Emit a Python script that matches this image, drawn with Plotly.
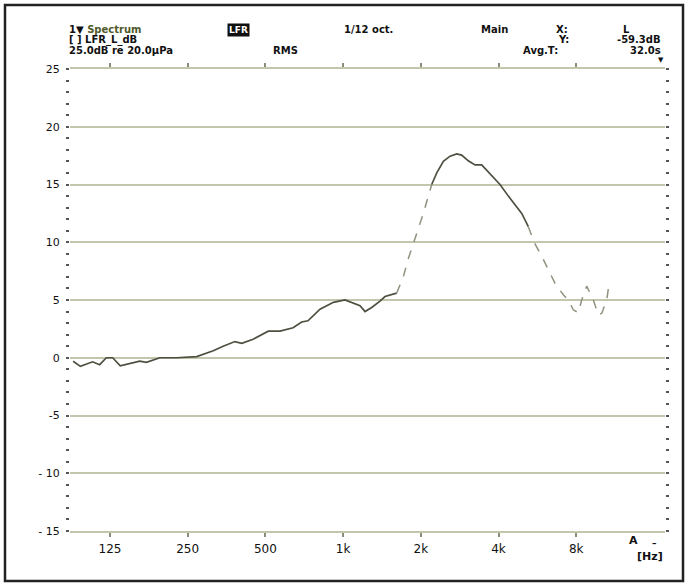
import plotly.graph_objects as go

# ---- data (1/12-octave spectrum) ----
freq_hz = [90, 96, 107, 114, 121, 128, 137, 163, 173, 195, 227, 271, 314, 343, 381,
           405, 448, 513, 570, 640, 691, 731, 814, 917, 1017, 1092, 1163, 1216, 1290,
           1390, 1453, 1613]
level_db = [-0.3, -0.75, -0.35, -0.6, 0.0, 0.0, -0.7, -0.3, -0.4, 0.0, 0.0, 0.1, 0.6,
            1.0, 1.4, 1.25, 1.6, 2.3, 2.3, 2.6, 3.1, 3.2, 4.2, 4.8, 5.0, 4.7, 4.5,
            4.0, 4.35, 4.9, 5.3, 5.6]

rise_hz = [1613, 1711, 1784, 1882, 2046, 2204]
rise_db = [5.6, 7.0, 8.5, 10.0, 12.5, 15.0]

peak_hz = [2204, 2306, 2446, 2596, 2755, 2880, 3054, 3244, 3443, 3652, 3876, 4053,
           4432, 4920, 5218]
peak_db = [15.0, 16.0, 17.0, 17.45, 17.65, 17.55, 17.05, 16.7, 16.7, 16.1, 15.5, 15.0,
           13.8, 12.5, 11.35]

tail_hz = [5218, 5490, 5880, 6236, 6620, 7130, 7455, 7795, 8150, 8400, 8785, 9320,
           9745, 10050, 10500, 10660]
tail_db = [11.35, 10.0, 8.8, 7.6, 6.45, 5.45, 5.0, 4.15, 3.9, 5.0, 6.2, 5.0, 3.7, 3.85,
           5.0, 6.0]

x_tick_vals = [125, 250, 500, 1000, 2000, 4000, 8000]
x_tick_text = ["125", "250", "500", "1k", "2k", "4k", "8k"]
y_tick_vals = [25, 20, 15, 10, 5, 0, -5, -10, -15]
y_tick_text = ["25", "20", "15", "10", "5", "0", "-5", "- 10", "- 15"]

# ---- layout geometry (pixels) ----
W, H = 686, 585
L, R, T, B = 70, 665, 69, 531
X_RANGE = [1.942, 4.247]

def px(x):
    return (x - L) / (R - L)

def py(y):
    return (B - y) / (B - T)

LINE = "#4d5040"
FAINT = "#8f927f"
GRID = "#c3c6ad"
FONT = "DejaVu Sans"

fig = go.Figure()
fig.add_trace(go.Scatter(x=freq_hz, y=level_db, mode="lines",
                         line=dict(color=LINE, width=1.7), hoverinfo="skip"))
fig.add_trace(go.Scatter(x=rise_hz, y=rise_db, mode="lines",
                         line=dict(color=FAINT, width=1.5, dash="dash"), hoverinfo="skip"))
fig.add_trace(go.Scatter(x=peak_hz, y=peak_db, mode="lines",
                         line=dict(color=LINE, width=1.7), hoverinfo="skip"))
fig.add_trace(go.Scatter(x=tail_hz, y=tail_db, mode="lines",
                         line=dict(color=FAINT, width=1.5, dash="dash"), hoverinfo="skip"))

ann = []
def text(x, y, s, anchor="left", size=10, color="#111"):
    ann.append(dict(xref="paper", yref="paper", x=px(x), y=py(y), text=s,
                    showarrow=False, xanchor=anchor, yanchor="middle", borderpad=0,
                    font=dict(family=FONT, size=size, color=color)))

text(68, 30, "<b>1▼ <span style='color:#4f5a2a'>Spectrum</span></b>")
text(68, 40, "<b>[ ] LFR_L_dB</b>")
text(68, 50, "<b>25.0dB re 20.0μPa</b>")
text(272, 50, "<b>RMS</b>")
text(343, 30, "<b>1/12 oct.</b>")
text(480, 30, "<b>Main</b>")
text(555, 30, "<b>X:</b>")
text(557, 40, "<b>Y:</b>")
text(522, 50, "<b>Avg.T:</b>")
text(626, 30, "<b>L</b>", anchor="center")
text(662, 40, "<b>-59.3dB</b>", anchor="right")
text(662, 50, "<b>32.0s</b>", anchor="right")
text(661, 60, "<b>▼</b>", anchor="center", size=7)
text(664, 556, "<b>[Hz]</b>", anchor="right", size=11)
text(633, 540, "<b>A</b>", anchor="center", size=11)
text(654, 543, "<b>–</b>", anchor="center", size=9)
# inverted tag box
ann.append(dict(xref="paper", yref="paper", x=px(238), y=py(30), text="<b>LFR</b>",
                showarrow=False, xanchor="center", yanchor="middle",
                bgcolor="#111", borderpad=1,
                font=dict(family=FONT, size=9, color="white")))

fig.update_layout(
    width=W, height=H,
    margin=dict(l=L, r=W - R, t=T, b=H - B),
    paper_bgcolor="white", plot_bgcolor="white",
    showlegend=False,
    annotations=ann,
    shapes=[dict(type="rect", xref="paper", yref="paper",
                 x0=px(5), x1=px(683), y0=py(581), y1=py(5),
                 line=dict(color="#222", width=2.5), layer="below")],
    xaxis=dict(type="log", range=X_RANGE, tickvals=x_tick_vals, ticktext=x_tick_text,
               showgrid=False, zeroline=False, showline=True, linecolor=GRID, linewidth=2,
               mirror="ticks", ticks="outside", ticklen=4, tickwidth=1.5, tickcolor="#8a8d78",
               tickfont=dict(family=FONT, size=12, color="#111"), ticklabelstandoff=2),
    yaxis=dict(range=[-15, 25], tickvals=y_tick_vals, ticktext=y_tick_text,
               showgrid=True, gridcolor=GRID, gridwidth=1.8, zeroline=False,
               showline=False, mirror="allticks", ticks="outside", ticklen=3, tickwidth=2,
               tickcolor="#555",
               minor=dict(dtick=1, ticks="outside", ticklen=3, tickwidth=2, tickcolor="#555",
                          showgrid=False),
               tickfont=dict(family=FONT, size=11, color="#111"), ticklabelstandoff=4),
)
fig.update_xaxes(tickprefix="<b>", ticksuffix="</b>")
fig.update_yaxes(tickprefix="<b>", ticksuffix="</b>")

fig.write_html("out.html", config={"displayModeBar": False},
               post_script="document.body.style.margin='0';")
